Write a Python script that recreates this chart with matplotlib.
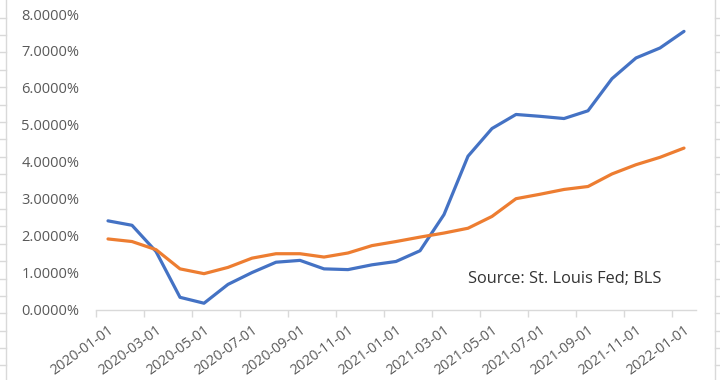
import matplotlib
matplotlib.use("Agg")
import matplotlib.pyplot as plt
import matplotlib.transforms as mtransforms
from matplotlib.lines import Line2D
from matplotlib.ticker import FuncFormatter

plt.rcParams["font.family"] = ["Open Sans", "DejaVu Sans"]

# monthly dates, Jan 2020 .. Jan 2022
dates = [f"{y}-{m:02d}-01" for y in (2020, 2021) for m in range(1, 13)] + ["2022-01-01"]

# year-over-year rates, percent
blue_vals = [2.40, 2.28, 1.57, 0.33, 0.17, 0.68, 1.00, 1.28, 1.33, 1.10,
             1.08, 1.21, 1.30, 1.59, 2.57, 4.15, 4.90, 5.28, 5.23, 5.17,
             5.38, 6.25, 6.81, 7.08, 7.53]
orange_vals = [1.91, 1.84, 1.62, 1.10, 0.97, 1.14, 1.39, 1.51, 1.51, 1.42,
               1.53, 1.73, 1.84, 1.96, 2.07, 2.20, 2.52, 3.00, 3.12, 3.25,
               3.33, 3.67, 3.92, 4.12, 4.37]

y_ticks = [0, 1, 2, 3, 4, 5, 6, 7, 8]
source_note = "Source: St. Louis Fed; BLS"

fig = plt.figure(figsize=(7.2, 3.8), dpi=100)
ax = fig.add_axes([96 / 720, 70.5 / 380, 600 / 720, 295.5 / 380])

x = list(range(len(dates)))
ax.plot(x, blue_vals, color="#4472C4", lw=2.3, solid_capstyle="round", solid_joinstyle="round")
ax.plot(x, orange_vals, color="#ED7D31", lw=2.3, solid_capstyle="round", solid_joinstyle="round")

ax.set_xlim(-0.5, len(dates) - 0.5)
ax.set_ylim(0, 8)

# y axis: labels only
ax.set_yticks(y_ticks)
ax.yaxis.set_major_formatter(FuncFormatter(lambda v, _: f"{v:.4f}%"))
ax.tick_params(axis="y", length=0, pad=12, labelsize=10.5, labelcolor="#595959")

# x axis: labels every 2 months at category centres, tick marks at boundaries
ax.set_xticks(x[::2])
ax.set_xticklabels(dates[::2], rotation=36, ha="right", va="center", rotation_mode="anchor")
ax.set_xticks([i - 0.5 for i in x[::2]], minor=True)
ax.tick_params(axis="x", which="major", length=0, pad=14, labelsize=10.2, labelcolor="#595959")
ax.tick_params(axis="x", which="minor", length=5, width=1, color="#D9D9D9")
shift = mtransforms.ScaledTranslation(4 / 100, 0, fig.dpi_scale_trans)
for lbl in ax.get_xticklabels():
    lbl.set_transform(lbl.get_transform() + shift)

for side in ("top", "right", "left"):
    ax.spines[side].set_visible(False)
ax.spines["bottom"].set_color("#D9D9D9")
ax.spines["bottom"].set_linewidth(1)

ax.text(468 / 720, 1 - 279 / 380, source_note, transform=fig.transFigure,
        fontsize=11.8, color="#333333", va="center", ha="left")

# faint spreadsheet cell lines at the picture edges
grid_c = "#D9D9D9"
fig.add_artist(Line2D([6 / 720, 6 / 720], [0, 1], color=grid_c, lw=1, transform=fig.transFigure))
fig.add_artist(Line2D([715 / 720, 715 / 720], [0, 1], color=grid_c, lw=1, transform=fig.transFigure))
yy = 17.5
while yy < 380:
    fy = 1 - yy / 380
    fig.add_artist(Line2D([0, 6 / 720], [fy, fy], color=grid_c, lw=1, transform=fig.transFigure))
    fig.add_artist(Line2D([715 / 720, 1], [fy, fy], color=grid_c, lw=1, transform=fig.transFigure))
    yy += 17.4

fig.savefig("out.png", dpi=100)
